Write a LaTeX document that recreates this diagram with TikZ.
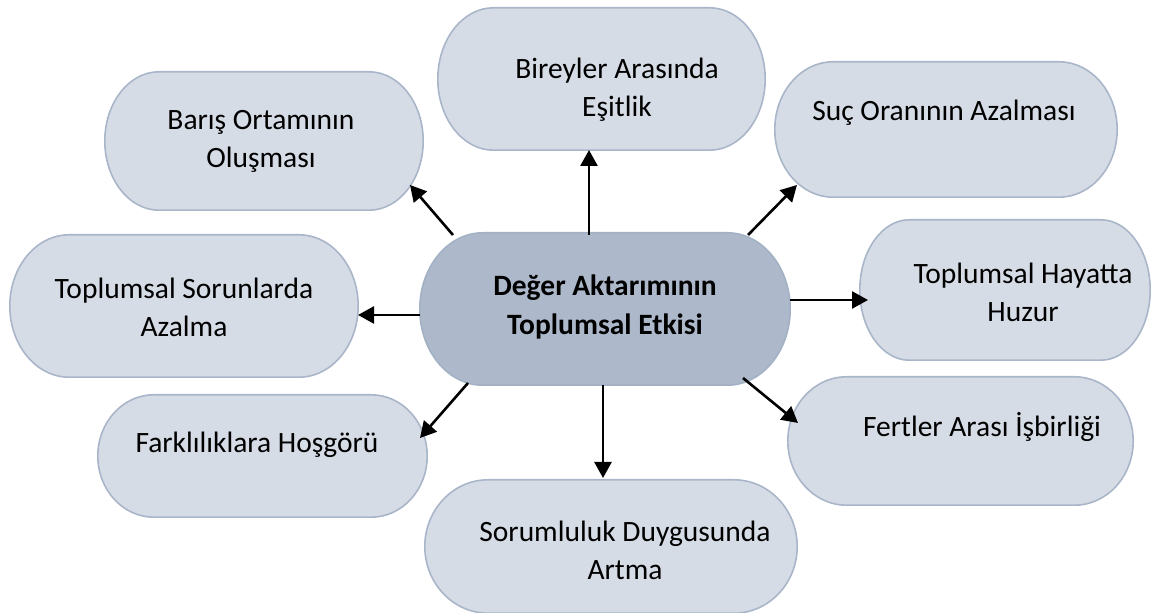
\documentclass[tikz,border=0pt]{standalone}
\usepackage{fontspec}
\setmainfont{Carlito}
\usetikzlibrary{arrows.meta,calc}
\definecolor{boxfill}{HTML}{D6DCE5}
\definecolor{boxline}{HTML}{A9B6C9}
\definecolor{mainfill}{HTML}{ADB9CA}
\definecolor{mainline}{HTML}{A3B1C5}
\tikzset{
  frame/.style={rectangle, inner sep=0pt, draw=none},
  txt/.style={align=center, inner sep=0pt, font=\fontsize{29.5}{38}\selectfont},
  arr/.style={line width=2.6pt, -{Triangle[length=16pt,width=17pt]}},
  hilite/.style={white, line width=3.5pt, opacity=.7, line cap=round},
}
% \termbox{name}{cx}{cy}{w}{h}{fill}{line}
\newcommand\termbox[7]{%
  \node[frame, minimum width=#4, minimum height=#5] (#1) at (#2,#3) {};
  \path let \p1=(#1.north west), \p2=(#1.south east),
    \n1={0.17*(\x2-\x1)}, \n2={(\y1-\y2)/2} in
    [draw=#7, fill=#6, line width=1.6pt]
    (\x1+\n1,\y1) -- (\x2-\n1,\y1)
    arc[start angle=90, end angle=-90, x radius=\n1, y radius=\n2]
    -- (\x1+\n1,\y2)
    arc[start angle=270, end angle=90, x radius=\n1, y radius=\n2] -- cycle;
  \path let \p1=(#1.north west), \p2=(#1.south east),
    \n1={0.17*(\x2-\x1)}, \n2={(\y1-\y2)/2} in
    [hilite]
    (\x2-\n1,\y1-\n2) ++(72:{\n1-5} and {\n2-5})
    arc[start angle=72, end angle=15, x radius=\n1-5, y radius=\n2-5]
    (\x1+\n1,\y1-\n2) ++(252:{\n1-5} and {\n2-5})
    arc[start angle=252, end angle=195, x radius=\n1-5, y radius=\n2-5];
}
\begin{document}
\begin{tikzpicture}[x=1pt, y=1pt]
\useasboundingbox (0,0) rectangle (1152,613);

\termbox{c}{605}{304}{370}{152}{mainfill}{mainline}
\termbox{b1}{264}{472}{318}{138}{boxfill}{boxline}
\termbox{b2}{601.5}{534}{327}{142}{boxfill}{boxline}
\termbox{b3}{946}{483.5}{342}{135}{boxfill}{boxline}
\termbox{b4}{184}{307}{348}{142}{boxfill}{boxline}
\termbox{b5}{1005}{323}{290}{140}{boxfill}{boxline}
\termbox{b6}{262.5}{157}{329}{122}{boxfill}{boxline}
\termbox{b7}{960.5}{172}{345}{128}{boxfill}{boxline}
\termbox{b8}{611}{66.5}{372}{133}{boxfill}{boxline}

\node[txt, font=\fontsize{29.5}{39}\selectfont\bfseries] (tc) at (605,306) {Değer Aktarımının\\Toplumsal Etkisi};
\node[txt] (t1) at (261,472) {Barış Ortamının\\Oluşması};
\node[txt] (t2) at (617,523) {Bireyler Arasında\\Eşitlik};
\node[txt] (t3) at (944,500) {Suç Oranının Azalması};
\node[txt] (t4) at (184,306) {Toplumsal Sorunlarda\\Azalma};
\node[txt] (t5) at (1023,321) {Toplumsal Hayatta\\Huzur};
\node[txt] (t6) at (257,168) {Farklılıklara Hoşgörü};
\node[txt] (t7) at (982,186) {Fertler Arası İşbirliği};
\node[txt] (t8) at (625,63) {Sorumluluk Duygusunda\\Artma};

\draw[arr] ($(c.center)+(-152,74)$) -- ($(b1.center)+(146,-44)$);
\draw[arr] ($(c.center)+(-16,74)$) -- ($(b2.center)+(-12.5,-71)$);
\draw[arr] ($(c.center)+(143,74)$) -- ($(b3.center)+(-149,-55.5)$);
\draw[arr] ($(c.center)+(-185,-6)$) -- ($(b4.center)+(174,-9)$);
\draw[arr] ($(c.center)+(185,9)$) -- ($(b5.center)+(-137,-10)$);
\draw[arr] ($(c.center)+(-137,-74)$) -- ($(b6.center)+(157.5,18)$);
\draw[arr] ($(c.center)+(138,-69)$) -- ($(b7.center)+(-162.5,18)$);
\draw[arr] ($(c.center)+(-2,-76)$) -- ($(b8.center)+(-8,68.5)$);
\end{tikzpicture}
\end{document}
